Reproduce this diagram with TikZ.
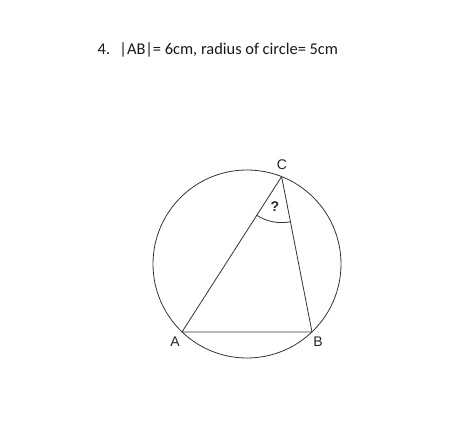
\documentclass[tikz,border=0pt]{standalone}
\usepackage{fontspec}
\newfontfamily\titlefont{Carlito}
\newfontfamily\labelfont{Liberation Sans}
\usetikzlibrary{angles}
\begin{document}
\begin{tikzpicture}[x = 0.75pt, y = 0.75pt]
            \useasboundingbox (0,0) rectangle (469,433);
            \node[anchor = base west, font = \titlefont\fontsize{12.3}{14}\selectfont, text = black!90] (title) at (93,378) {4.\hspace{7pt}|AB|= 6cm, radius of circle= 5cm};
            \begin{scope}[every node/.append style = {font = \labelfont\fontsize{10.5}{12}\selectfont, text = black!85}]
                \coordinate (O) at (247,169);
                \coordinate (A) at (182,101);
                \coordinate (B) at (312,101);
                \coordinate (C) at (281.6,256.4);
                \draw[line width = 0.6pt, black!80] (O) circle[radius = 94];
                \draw[line width = 0.6pt, black!80] (A) -- (B) -- (C) -- cycle;
                \draw pic[draw, black!80, line width = 0.6pt, angle radius = 34.5pt] {angle = A--C--B};
                \node (labA) at (175,91) {A};
                \node (labB) at (318,91) {B};
                \node (labC) at (282,268) {C};
                \node[font = \labelfont\bfseries\fontsize{10.5}{12}\selectfont] (labQ) at (275,226) {?};
            \end{scope}
        \end{tikzpicture}
\end{document}
